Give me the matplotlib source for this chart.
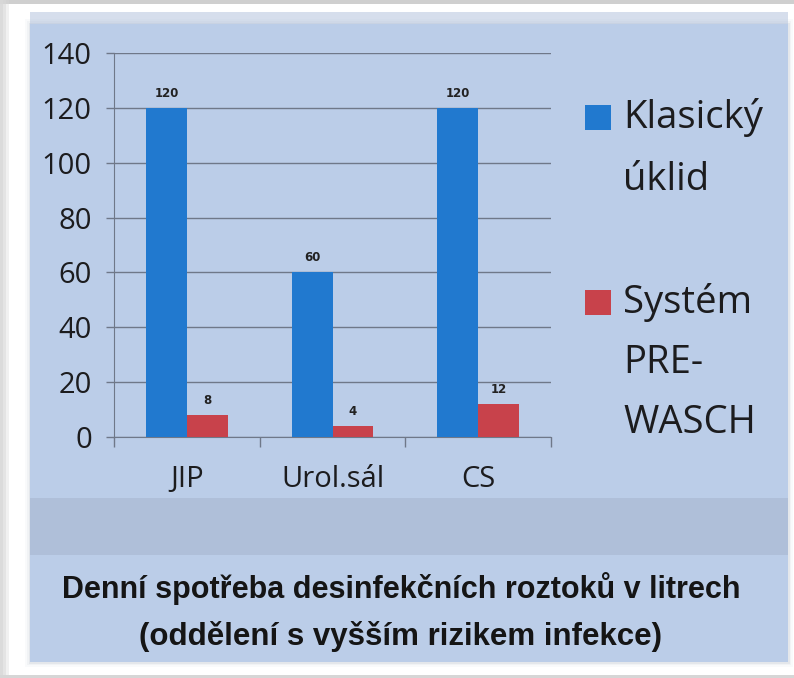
import matplotlib
matplotlib.use("Agg")
import matplotlib.pyplot as plt
from matplotlib.patches import Rectangle

# data
categories = ["JIP", "Urol.sál", "CS"]
klasicky = [120, 60, 120]
prewasch = [8, 4, 12]
series_labels = [["Klasický", "úklid"], ["Systém", "PRE-", "WASCH"]]
y_ticks = [0, 20, 40, 60, 80, 100, 120, 140]
caption = ["Denní spotřeba desinfekčních roztoků v litrech",
           "(oddělení s vyšším rizikem infekce)"]

W, H = 794, 678
BG = "#bbcde8"
BAND = "#afbfd9"
BLUE = "#2179cf"
RED = "#c8424b"
GRID = "#6f7889"
INK = "#1c1c1e"


def fx(x):
    return x / W


def fy(y):
    return 1 - y / H


fig = plt.figure(figsize=(W / 100, H / 100), dpi=100, facecolor="white")

# photo frame: outer grey edges, soft shadow, light-blue print
fig.patches.append(Rectangle((0, fy(4)), 1, 4 / H, transform=fig.transFigure,
                             facecolor="#cfcfcf", edgecolor="none", zorder=0))
for edge, a in [(9, 0.35), (6, 0.5), (3, 0.7)]:
    fig.patches.append(Rectangle((0, 0), fx(edge), 1, transform=fig.transFigure,
                                 facecolor="#d8d8d8", alpha=a, edgecolor="none",
                                 zorder=0))
fig.patches.append(Rectangle((0, 0), 1, 3 / H, transform=fig.transFigure,
                             facecolor="#d6d6d6", edgecolor="none", zorder=0))
for grow, a in [(5, 0.04), (3, 0.06), (1.5, 0.1)]:
    fig.patches.append(Rectangle((fx(30 - grow), fy(662 + grow)),
                                 (758 + 2 * grow) / W, (638 + 2 * grow) / H,
                                 transform=fig.transFigure, facecolor="#7a8699",
                                 alpha=a, edgecolor="none", zorder=0))
fig.patches.append(Rectangle((fx(30), fy(662)), 758 / W, 638 / H,
                             transform=fig.transFigure, facecolor=BG,
                             edgecolor="none", zorder=1))
fig.patches.append(Rectangle((fx(30), fy(24)), 758 / W, 12 / H,
                             transform=fig.transFigure, facecolor="#aebfdb",
                             alpha=0.5, edgecolor="none", zorder=1))
fig.patches.append(Rectangle((fx(30), fy(555)), 758 / W, 57 / H,
                             transform=fig.transFigure, facecolor=BAND,
                             edgecolor="none", zorder=1))

ax = fig.add_axes([fx(114), fy(437), (551 - 114) / W, (437 - 53) / H])
ax.set_facecolor("none")
ax.set_zorder(2)

x = list(range(len(categories)))
w = 0.28
b1 = ax.bar([i - w / 2 for i in x], klasicky, w, color=BLUE, zorder=3)
b2 = ax.bar([i + w / 2 for i in x], prewasch, w, color=RED, zorder=3)
for bars, vals in [(b1, klasicky), (b2, prewasch)]:
    for rect, v in zip(bars, vals):
        ax.annotate(str(v), (rect.get_x() + rect.get_width() / 2, v),
                    xytext=(0, 6), textcoords="offset points",
                    ha="center", va="bottom", fontsize=8.5,
                    fontweight="bold", color="#222222",
                    family=["DejaVu Sans"])

ax.set_xlim(-0.5, 2.5)
ax.set_ylim(0, 140)
ax.set_yticks(y_ticks)
ax.set_yticklabels([str(t) for t in y_ticks], family=["Open Sans"],
                   fontsize=21, color=INK)
ax.yaxis.grid(True, color=GRID, linewidth=1, zorder=1)
ax.tick_params(axis="y", length=6, width=1, color=GRID, pad=10)

# category labels centred, ticks on category boundaries (Excel style)
ax.set_xticks([-0.5, 0.5, 1.5, 2.5])
ax.set_xticklabels([])
ax.set_xticks(x, minor=True)
ax.set_xticklabels(categories, minor=True, family=["Open Sans"],
                   fontsize=21, color=INK)
ax.tick_params(axis="x", which="major", length=7, width=1, color=GRID)
ax.tick_params(axis="x", which="minor", length=0, pad=20)

for side in ["top", "right"]:
    ax.spines[side].set_visible(False)
ax.spines["left"].set_color(GRID)
ax.spines["bottom"].set_color(GRID)

# legend to the right, drawn by hand to keep the big multi-line layout
legend_rows = [(128, 62), (313, 60)]
for bars, lines, (base, step) in zip([b1, b2], series_labels, legend_rows):
    fig.patches.append(Rectangle((fx(585), fy(base + 2)), 26 / W, 25 / H,
                                 transform=fig.transFigure,
                                 facecolor=bars.patches[0].get_facecolor(),
                                 edgecolor="none", zorder=3))
    for k, line in enumerate(lines):
        fig.text(fx(623), fy(base + k * step), line, ha="left", va="baseline",
                 fontsize=27.5, family=["Open Sans"], color=INK, zorder=3)

fig.text(0.505, fy(598), caption[0], ha="center", va="baseline",
         fontsize=22, fontweight="bold", family=["Liberation Sans"],
         color="#151515", zorder=3)
fig.text(0.505, fy(645), caption[1], ha="center", va="baseline",
         fontsize=22.5, fontweight="bold", family=["Liberation Sans"],
         color="#151515", zorder=3)

fig.savefig("out.png", dpi=100, facecolor="white")
